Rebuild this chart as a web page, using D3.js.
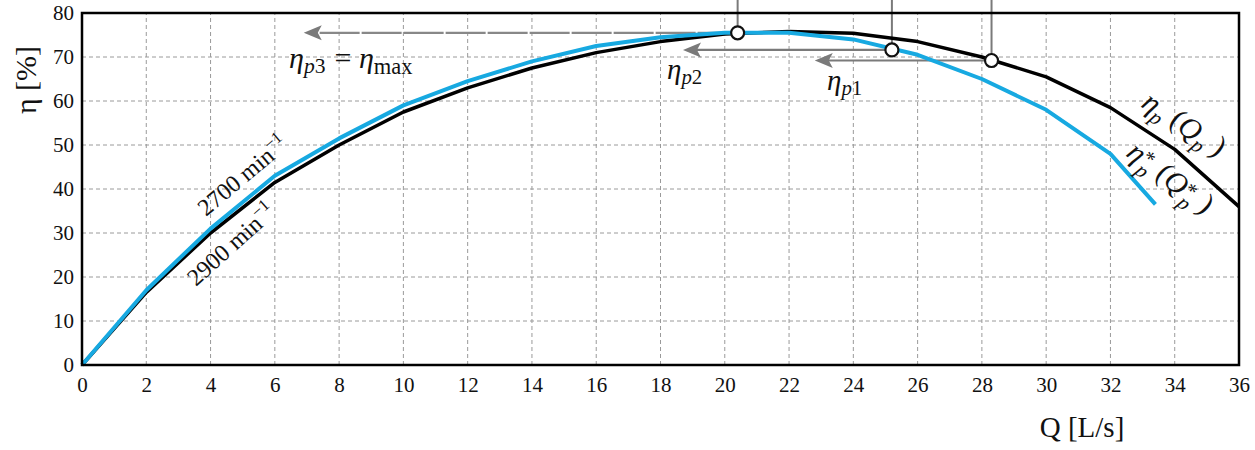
<!DOCTYPE html>
<html><head><meta charset="utf-8">
<script src="https://cdn.jsdelivr.net/npm/d3@7"></script>
<style>body{margin:0;background:#fff} text{font-family:'Liberation Serif','Times New Roman',serif}</style>
</head><body>
<svg id="c" width="1255" height="450"></svg>
<script>
const qTicks = [0,2,4,6,8,10,12,14,16,18,20,22,24,26,28,30,32,34,36];
const etaTicks = [0,10,20,30,40,50,60,70,80];
const q2900 = [0,2,4,6,8,10,12,14,16,18,20,22,24,26,28,30,32,34,36];
const eta2900 = [0,16.5,30,41.5,50,57.5,63,67.5,71,73.5,75.2,75.8,75.4,73.5,70,65.5,58.5,49,36];
const q2700 = [0,2,4,6,8,10,12,14,16,18,20,22,24,26,28,30,32,33.4];
const eta2700 = [0,17,31,43,51.5,59,64.5,69,72.5,74.5,75.5,75.5,74,70.5,65,58,48,36.5];
const opQ = [20.4,25.2,28.3];
const opEta = [75.5,71.6,69.2];
const arrowTipQ = [6.9,18.7,22.8];

const W=1255,H=450,m={l:82,r:16,t:13,b:85};
const svg=d3.select('#c');
const x=d3.scaleLinear().domain([0,36]).range([m.l,W-m.r]);
const y=d3.scaleLinear().domain([0,80]).range([H-m.b,m.t]);
const serif="'Liberation Serif','Times New Roman',serif";

// grid
svg.append('g').selectAll('line').data(qTicks.slice(1,-1)).join('line')
  .attr('x1',d=>x(d)).attr('x2',d=>x(d)).attr('y1',y(0)).attr('y2',y(80))
  .attr('stroke','#9a9a9a').attr('stroke-width',1).attr('stroke-dasharray','4,3');
svg.append('g').selectAll('line').data(etaTicks.slice(1,-1)).join('line')
  .attr('x1',x(0)).attr('x2',x(36)).attr('y1',d=>y(d)).attr('y2',d=>y(d))
  .attr('stroke','#9a9a9a').attr('stroke-width',1).attr('stroke-dasharray','4,3');

// axes
const xa=svg.append('g').attr('transform',`translate(0,${y(0)})`)
  .call(d3.axisBottom(x).tickValues(qTicks).tickSize(0).tickPadding(10).tickFormat(d3.format('d')));
const ya=svg.append('g').attr('transform',`translate(${x(0)},0)`)
  .call(d3.axisLeft(y).tickValues(etaTicks).tickSize(0).tickPadding(8).tickFormat(d3.format('d')));
[xa,ya].forEach(a=>{a.attr('font-family',serif).attr('font-size',21);a.select('.domain').remove();a.selectAll('text').attr('fill','#111');});
xa.selectAll('text').attr('dy','0.8em');
ya.selectAll('text').attr('dy','0.3em');

// gray operating lines (verticals)
const gray='#7a7a7a';
svg.append('g').selectAll('line').data(opQ).join('line')
  .attr('x1',d=>x(d)).attr('x2',d=>x(d)).attr('y1',0).attr('y2',(d,i)=>y(opEta[i]))
  .attr('stroke',gray).attr('stroke-width',2);
// horizontal arrows
const ag=svg.append('g');
opQ.forEach((q,i)=>{
  const yy=y(opEta[i]), tip=x(arrowTipQ[i]);
  ag.append('line').attr('x1',x(q)).attr('x2',tip+12).attr('y1',yy).attr('y2',yy)
    .attr('stroke',i===0?'#888':gray).attr('stroke-width',2.2).attr('stroke-dasharray',i===0?'40,2':null);
  ag.append('path').attr('d',`M${tip},${yy} L${tip+18},${yy-7.5} L${tip+14},${yy} L${tip+18},${yy+7.5} Z`).attr('fill',gray);
});

// curves
const line=d3.line().x(d=>x(d[0])).y(d=>y(d[1]));
svg.append('path').datum(q2900.map((q,i)=>[q,eta2900[i]])).attr('d',line)
  .attr('fill','none').attr('stroke','#000').attr('stroke-width',3.5).attr('stroke-linejoin','round');
svg.append('path').datum(q2700.map((q,i)=>[q,eta2700[i]])).attr('d',line)
  .attr('fill','none').attr('stroke','#17a9e1').attr('stroke-width',4).attr('stroke-linejoin','round');

// frame
svg.append('rect').attr('x',x(0)).attr('y',y(80)).attr('width',x(36)-x(0)).attr('height',y(0)-y(80))
  .attr('fill','none').attr('stroke','#000').attr('stroke-width',2.5);

// points
svg.append('g').selectAll('circle').data(opQ).join('circle')
  .attr('cx',d=>x(d)).attr('cy',(d,i)=>y(opEta[i])).attr('r',6.5)
  .attr('fill','#fff').attr('stroke','#111').attr('stroke-width',2.2);

// labels
function txt(xx,yy,size,rot){
  return svg.append('text').attr('font-family',serif).attr('font-size',size).attr('fill','#111')
   .attr('transform',`translate(${xx},${yy}) rotate(${rot||0})`);
}
let t=txt(289,68,30);
t.append('tspan').attr('font-style','italic').text('η');
t.append('tspan').attr('font-style','italic').attr('font-size','0.72em').attr('dy','0.25em').text('p');
t.append('tspan').attr('font-size','0.72em').text('3');
t.append('tspan').attr('dy','-0.18em').attr('dx','0.3em').text('=');
t.append('tspan').attr('font-style','italic').attr('dx','0.25em').text('η');
t.append('tspan').attr('font-size','0.75em').attr('dy','0.25em').text('max');

t=txt(667,79,29);
t.append('tspan').attr('font-style','italic').text('η');
t.append('tspan').attr('font-style','italic').attr('font-size','0.72em').attr('dy','0.25em').text('p');
t.append('tspan').attr('font-size','0.72em').text('2');
t=txt(827,90,29);
t.append('tspan').attr('font-style','italic').text('η');
t.append('tspan').attr('font-style','italic').attr('font-size','0.72em').attr('dy','0.25em').text('p');
t.append('tspan').attr('font-size','0.72em').text('1');

// speed labels
t=txt(206,217,24,-40);
t.append('tspan').text('2700 min');
t.append('tspan').attr('font-size','0.7em').attr('dy','-0.6em').text('−1');
t=txt(196,287,24,-42);
t.append('tspan').text('2900 min');
t.append('tspan').attr('font-size','0.7em').attr('dy','-0.6em').text('−1');

// curve labels
t=txt(1140,106,30,37);
t.append('tspan').attr('font-style','italic').text('η');
t.append('tspan').attr('font-style','italic').attr('font-size','0.7em').attr('dy','0.3em').text('p');
t.append('tspan').attr('dy','-0.3em').text(' (');
t.append('tspan').attr('font-style','italic').text('Q');
t.append('tspan').attr('font-style','italic').attr('font-size','0.7em').attr('dy','0.3em').text('p');
t.append('tspan').attr('dy','-0.3em').text(' )');

t=txt(1125,155,30,41);
t.append('tspan').attr('font-style','italic').text('η');
t.append('tspan').attr('font-size','0.7em').attr('dy','-0.3em').text('*');
t.append('tspan').attr('font-style','italic').attr('font-size','0.7em').attr('dx','-0.35em').attr('dy','0.65em').text('p');
t.append('tspan').attr('dy','-0.35em').text(' (');
t.append('tspan').attr('font-style','italic').text('Q');
t.append('tspan').attr('font-size','0.7em').attr('dy','-0.3em').text('*');
t.append('tspan').attr('font-style','italic').attr('font-size','0.7em').attr('dx','-0.35em').attr('dy','0.65em').text('p');
t.append('tspan').attr('dy','-0.35em').text(' )');

// axis titles
txt(36,80,30,-90).attr('text-anchor','middle').text('η [%]');
txt(1082,437,29).attr('text-anchor','middle').text('Q [L/s]');
</script>
</body></html>
